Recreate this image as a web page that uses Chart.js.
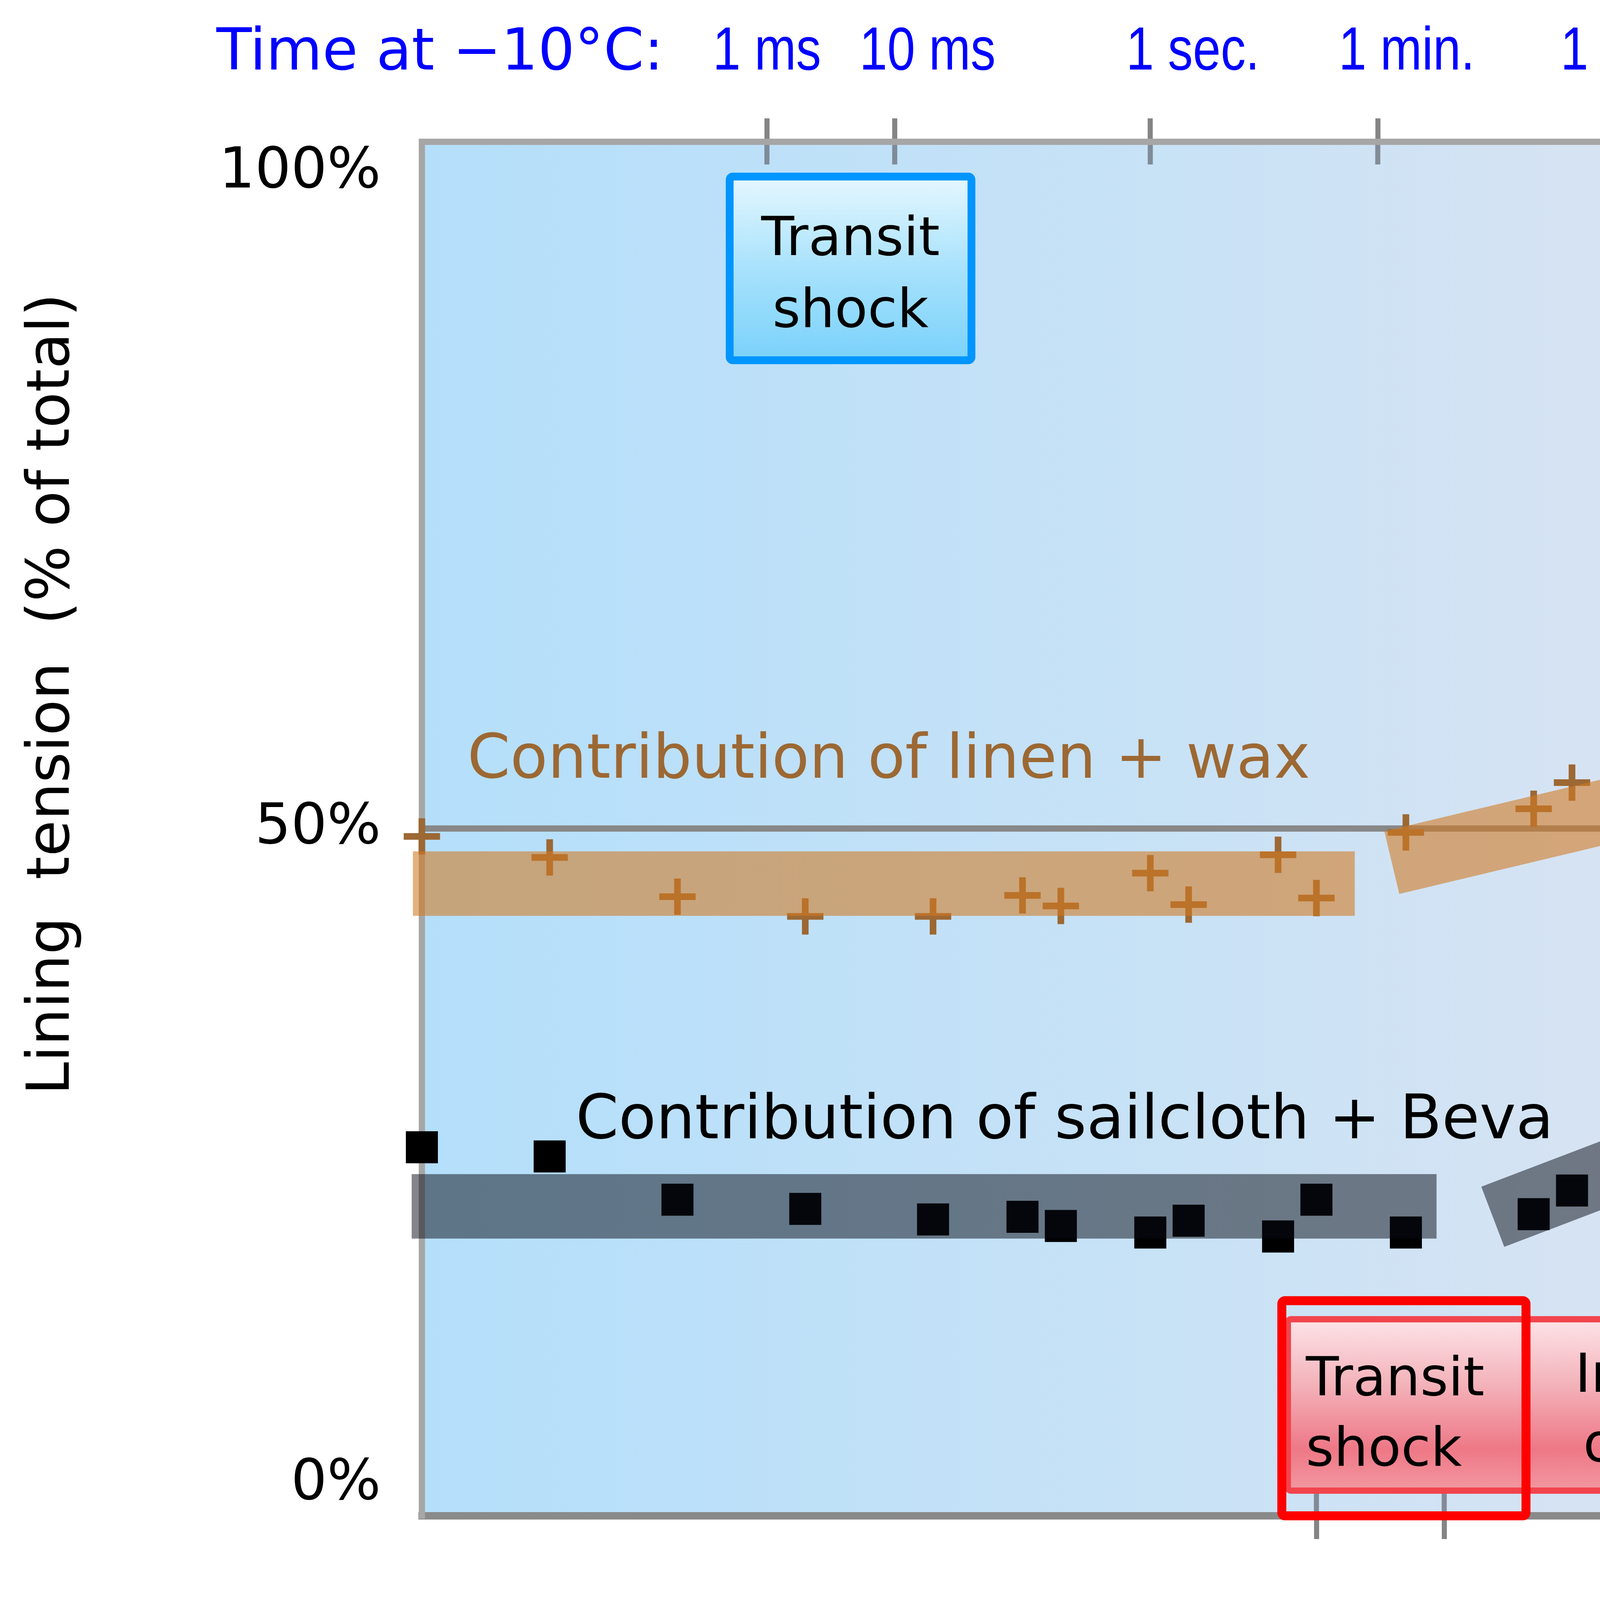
<!DOCTYPE html>
<html>
<head>
<meta charset="utf-8">
<script src="https://cdn.jsdelivr.net/npm/chart.js@4.4.1/dist/chart.umd.min.js"></script>
<style>
  html, body { margin: 0; padding: 0; background: #fff; }
  #wrap { width: 7761px; height: 4300px; position: relative; }
</style>
</head>
<body>
<div id="wrap"><canvas id="grafico-tensao"></canvas></div>
<script>
// x = log10(tempo em segundos a 21°C), y = % da tensão total
const tempos = [-10, -9, -8, -7, -6, -5.3, -5, -4.3, -4, -3.3, -3, -2.3, -1.3, -1, -0.3, 0, 0.7, 1, 2, 2.12, 3, 3.12, 4, 4.12, 5, 5.12, 6.12, 7.12, 8.12];
const linhoCera = [49.4, 47.8, 44.8, 43.3, 43.3, 44.9, 44.1, 46.6, 44.2, 48.0, 44.7, 49.7, 51.5, 53.5, 53.1, 55.5, 53.9, 56.5, 56.8, 47.1, 55.2, 45.5, 53.1, 42.9, 48.1, 39.4, 36.5, 28.7, 22.5];
const lonaBeva = [25.7, 25.0, 21.7, 21.0, 20.2, 20.4, 19.7, 19.2, 20.1, 18.9, 21.7, 19.2, 20.6, 22.4, 23.9, 24.1, 29.2, 28.2, 33.8, 31.4, 38.6, 37.3, 44.6, 41.8, 51.3, 45.3, 49.3, 49.9, 52.9];

// faixas de tendência: [x inicial, y inicial, x final, y final]
const faixasLinho = [[-10.07, 45.8, -2.70, 45.8], [-2.41, 47.4, 1.89, 57.4], [2.15, 57.2, 8.23, 21.8]];
const faixasLona = [[-10.08, 21.2, -2.06, 21.2], [-1.62, 20.4, 2.47, 35.6], [2.87, 38.1, 8.22, 55.0]];

// marcas do eixo de tempo (log10 s a 21°C) e deslocamento para -10°C
const marcasLog = [-3, -2, 0, 1.78, 3.56, 4.94, 6.41, 7.5, 8.5, 9.5];
const rotulosTempo = ["1 ms", "10 ms", "1 sec.", "1 min.", "1 hr.", "1day", "1 mo.", "1 yr.", "10 yr.", "100 yr."];
const deslocFrio = 4.3;
const valoresY = [0, 50, 100];
const rotulosY = ["0%", "50%", "100%"];

// pequenos empurrões horizontais dos rótulos (px), como no original
const ajusteTopo = [0, 84, 109, 74, 10, -15, -40, -25, -5, 54];
const ajusteBase = [35, 124, 149, 109, 40, 20, -5, 25, 15, 79];

const fonteGothic = "'DejaVu Sans', 'Noto Sans', sans-serif";
const fonteArial = "'Liberation Sans', Arial, sans-serif";

const pontos = (ys) => tempos.map((x, i) => ({ x, y: ys[i] }));
const faixa = (f) => [{ x: f[0], y: f[1] }, { x: f[2], y: f[3] }];

const fundo = {
  id: "fundo",
  beforeDraw(chart) {
    const { ctx, chartArea: a } = chart;
    const g = ctx.createLinearGradient(a.left, 0, a.right, 0);
    g.addColorStop(0, "#b4dffb");
    g.addColorStop(0.29, "#c8e2f6");
    g.addColorStop(0.59, "#e1e4f0");
    g.addColorStop(0.82, "#efe5ec");
    g.addColorStop(1, "#fde7e7");
    ctx.save();
    ctx.fillStyle = g;
    ctx.fillRect(a.left, a.top, a.right - a.left, a.bottom - a.top);
    ctx.restore();
  }
};

const marcasInternas = {
  id: "marcasInternas",
  beforeDatasetsDraw(chart) {
    const { ctx, chartArea: a, scales } = chart;
    ctx.save();
    ctx.strokeStyle = "rgba(105,110,120,0.75)";
    ctx.lineWidth = 13;
    scales.x.ticks.forEach(t => {
      const p = scales.x.getPixelForValue(t.value);
      ctx.beginPath(); ctx.moveTo(p, a.bottom - 10); ctx.lineTo(p, a.bottom - 58); ctx.stroke();
    });
    scales.x2.ticks.forEach(t => {
      const p = scales.x2.getPixelForValue(t.value);
      ctx.beginPath(); ctx.moveTo(p, a.top + 8); ctx.lineTo(p, a.top + 58); ctx.stroke();
    });
    ctx.restore();
  }
};

// rótulos estreitos (estilo Arial Narrow) nos eixos de tempo
const rotulosEstreitos = {
  id: "rotulosEstreitos",
  afterDraw(chart) {
    const { ctx, scales } = chart;
    ctx.save();
    ctx.font = `156px ${fonteArial}`;
    ctx.textAlign = "center";
    ctx.textBaseline = "alphabetic";
    [[scales.x2, "#0000ff", scales.x2.bottom - 185, ajusteTopo],
     [scales.x, "#ff0000", scales.x.top + 333, ajusteBase]].forEach(([s, cor, base, ajuste]) => {
      ctx.fillStyle = cor;
      s.ticks.forEach((t, i) => {
        const p = s.getPixelForValue(t.value) + ajuste[i];
        ctx.save();
        ctx.translate(p, base);
        ctx.scale(0.82, 1);
        ctx.fillText(t.label, 0, 0);
        ctx.restore();
      });
    });
    ctx.restore();
  }
};

function caixa(ctx, x0, y0, x1, y1, preenche, cor, lw, r) {
  const h = lw / 2;
  ctx.beginPath();
  ctx.roundRect(x0 + h, y0 + h, x1 - x0 - lw, y1 - y0 - lw, r);
  if (preenche) {
    const g = ctx.createLinearGradient(0, y0, 0, y1);
    preenche.forEach(([p, c]) => g.addColorStop(p, c));
    ctx.fillStyle = g;
    ctx.fill();
  }
  ctx.lineWidth = lw;
  ctx.strokeStyle = cor;
  ctx.stroke();
}

const rosa = [[0, "#fde6ea"], [0.4, "#f3b0b8"], [0.75, "#ee7886"], [1, "#f29aa3"]];
const azul = [[0, "#e8f8ff"], [0.5, "#a8e2fc"], [1, "#78d1fb"]];

const anotacoes = {
  id: "anotacoes",
  afterDatasetsDraw(chart) {
    const { ctx, scales } = chart;
    const X = v => scales.x.getPixelForValue(v);
    const Y = v => scales.y.getPixelForValue(v);
    ctx.save();

    caixa(ctx, X(-3.248), Y(12.83), X(2.144), Y(-0.71), rosa, "#f2444c", 16, 8);
    caixa(ctx, X(4.85), Y(12.83), X(9.435), Y(-0.71), rosa, "#f87878", 20, 8);
    caixa(ctx, X(-3.306), Y(14.35), X(-1.325), Y(-2.74), null, "#ff0000", 23, 8);
    caixa(ctx, X(-7.622), Y(100.0), X(-5.669), Y(85.4), azul, "#0095ff", 20, 8);

    ctx.fillStyle = "#000";
    ctx.textBaseline = "alphabetic";
    ctx.font = `138px ${fonteGothic}`;
    ctx.textAlign = "center";
    ctx.fillText("Transit", X(-6.646), Y(93.72));
    ctx.fillText("shock", X(-6.646), Y(88.24));
    ctx.fillText("Initial stretch,", X(0.478), Y(7.06));
    ctx.fillText("or keying out", X(0.478), Y(1.76));
    ctx.fillText("Relaxation for", X(7.148), Y(7.06));
    ctx.fillText("days to decades", X(7.148), Y(1.67));
    ctx.textAlign = "left";
    ctx.fillText("Transit", X(-3.083), Y(6.79));
    ctx.fillText("shock", X(-3.083), Y(1.43));

    ctx.font = `157px ${fonteGothic}`;
    ctx.fillStyle = "#9c6833";
    ctx.fillText("Contribution of linen + wax", X(-9.644), Y(53.87));
    ctx.fillStyle = "#000";
    ctx.fillText("Contribution of sailcloth + Beva", X(-8.796), Y(26.38));

    ctx.font = `148px ${fonteGothic}`;
    ctx.fillStyle = "#0000ff";
    ctx.fillText("Time at \u221210°C:", 554, 178);
    ctx.fillStyle = "#ff0000";
    ctx.fillText("Time at 21°C:", 2015, 4210);

    ctx.fillStyle = "#000";
    ctx.font = `151px ${fonteGothic}`;
    ctx.translate(176, 2803);
    ctx.rotate(-Math.PI / 2);
    ctx.fillText("Lining  tension  (% of total)", 0, 0);
    ctx.restore();
  }
};

const faixaDataset = (f, cor, ordem) => ({
  type: "line",
  data: faixa(f),
  borderColor: cor,
  borderWidth: 165,
  borderCapStyle: "butt",
  pointRadius: 0,
  fill: false,
  clip: false,
  order: ordem
});

const eixoTempo = (posicao, afterBuildTicks, altura, corBorda, larguraBorda) => ({
  type: "linear", position: posicao, min: -10, max: 10,
  afterBuildTicks,
  afterFit: s => { s.height = altura; },
  grid: { drawOnChartArea: false, drawTicks: true, tickLength: 60, tickWidth: 13, tickColor: "#858585" },
  border: { color: corBorda, width: larguraBorda },
  ticks: { display: false, autoSkip: false, callback: (v, i) => rotulosTempo[i] }
});

new Chart(document.getElementById("grafico-tensao").getContext("2d"), {
  type: "scatter",
  data: {
    datasets: [
      ...faixasLona.map(f => faixaDataset(f, "rgba(8,12,22,0.5)", 0)),
      ...faixasLinho.map(f => faixaDataset(f, "rgba(208,121,34,0.585)", 1)),
      {
        label: "Sailcloth + Beva",
        data: pontos(lonaBeva),
        pointStyle: "rect",
        pointRadius: 58,
        pointBackgroundColor: "#000",
        pointBorderWidth: 0,
        clip: false,
        order: 2
      },
      {
        label: "Linen + wax",
        data: pontos(linhoCera),
        pointStyle: "cross",
        pointRadius: 46.5,
        pointBorderColor: "#9c6833",
        pointBorderWidth: 17,
        clip: false,
        order: 3
      }
    ]
  },
  options: {
    responsive: true,
    maintainAspectRatio: false,
    devicePixelRatio: 1,
    animation: false,
    events: [],
    layout: { padding: 0 },
    plugins: { legend: { display: false }, tooltip: { enabled: false } },
    scales: {
      x: eixoTempo("bottom", s => { s.ticks = marcasLog.map(v => ({ value: v })); }, 420, "#8a8a8a", 19),
      x2: eixoTempo("top", s => { s.ticks = marcasLog.map(v => ({ value: v - deslocFrio })); }, 363, "#a6a6a6", 16),
      y: {
        type: "linear", min: -2.38, max: 102.35,
        afterBuildTicks: s => { s.ticks = valoresY.map(v => ({ value: v })); },
        afterFit: s => { s.width = 1080; },
        grid: {
          drawTicks: false,
          lineWidth: 16,
          color: c => (c.tick && c.tick.value === 50 ? "#888888" : "rgba(0,0,0,0)")
        },
        border: { color: "#a6a6a6", width: 16 },
        ticks: {
          padding: 105, color: "#000",
          font: { family: fonteGothic, size: 145 },
          callback: (v, i) => rotulosY[i]
        }
      },
      y2: {
        type: "linear", position: "right",
        afterFit: s => { s.width = 138; },
        grid: { drawOnChartArea: false, drawTicks: false },
        border: { color: "#a6a6a6", width: 16 },
        ticks: { display: false }
      }
    }
  },
  plugins: [fundo, marcasInternas, rotulosEstreitos, anotacoes]
});
</script>
</body>
</html>
